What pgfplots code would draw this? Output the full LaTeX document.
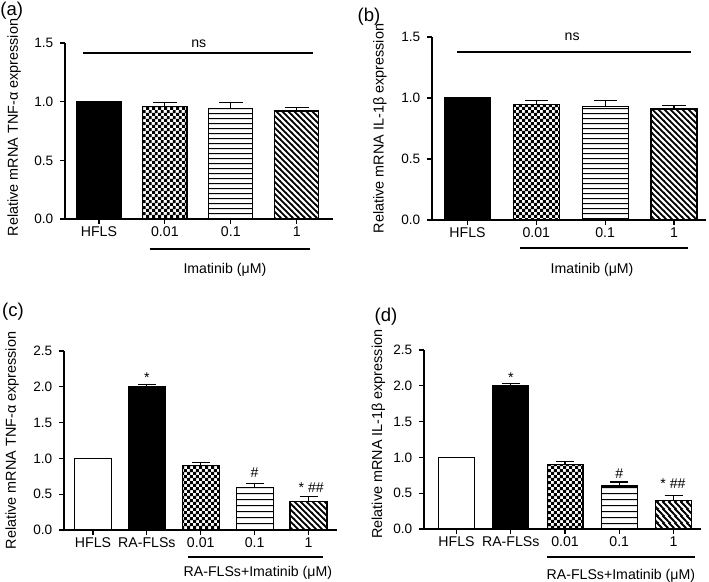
\documentclass[border=0pt]{standalone}
\usepackage{fontspec}
\setmainfont{Liberation Sans}
\usepackage{pgfplots}
\pgfplotsset{compat=1.18}
\usetikzlibrary{patterns.meta}

\tikzdeclarepattern{
  name=hl, type=uncolored,
  bottom left={(0pt,0pt)}, top right={(4pt,4.1pt)}, tile size={(4pt,4.1pt)},
  code={\draw[line width=0.85pt] (-0.2pt,2pt) -- (4.2pt,2pt);}
}
\tikzdeclarepattern{
  name=dl, type=uncolored,
  bottom left={(0pt,0pt)}, top right={(4.8pt,4.8pt)}, tile size={(4.8pt,4.8pt)},
  code={\draw[line width=1.5pt] (-1pt,5.8pt) -- (5.8pt,-1pt);
        \draw[line width=1.5pt] (-1pt,1pt) -- (1pt,-1pt);
        \draw[line width=1.5pt] (3.8pt,5.8pt) -- (5.8pt,3.8pt);}
}
\tikzdeclarepattern{
  name=ck, type=uncolored,
  bottom left={(0pt,0pt)}, top right={(4.4pt,4.4pt)}, tile size={(4.4pt,4.4pt)},
  code={\fill (0pt,0pt) rectangle (2.3pt,2.3pt); \fill (2.2pt,2.2pt) rectangle (4.4pt,4.4pt);}
}

\newcommand\lab{\fontsize{10.6}{12}\selectfont}
\pgfplotsset{
  panel/.style={
    scale only axis, anchor=south west,
    axis x line=bottom, axis y line=left,
    axis line style={-, line width=0.9pt, black},
    tick align=outside, major tick length=3.75pt,
    tick style={line width=0.9pt, black},
    ymin=0, clip=false,
    yticklabel style={font=\fontsize{10.2}{12}\selectfont, xshift=-1.5pt, /pgf/number format/.cd, fixed, fixed zerofill, precision=1},
    /pgf/number format/assume math mode=true,
    xticklabel style={font=\lab, yshift=1.5pt},
    ylabel style={font=\fontsize{10.8}{12}\selectfont, anchor=center},
  },
  bbar/.style={ybar, bar shift=0pt, draw=black, line width=0.9pt},
  eb/.style={error bars/.cd, y dir=plus, y explicit,
    error bar style={line width=0.9pt, black},
    error mark options={rotate=90, line width=0.9pt, black, mark size=#1}},
}

\begin{document}
\begin{tikzpicture}
\path[use as bounding box] (0,0) rectangle (531.75pt,435.75pt);

% (a)
\begin{axis}[panel, at={(48.75pt,271.5pt)}, width=201pt, height=132pt,
  xmin=-0.515, xmax=3.55, ymax=1.5, ytick={0,0.5,1,1.5},
  xtick={0,1,2,3}, xticklabels={HFLS,0.01,0.1,1}, bar width=0.67,
  ylabel={Relative mRNA TNF-α expression},
  ylabel style={at={(axis description cs:-0.19,0.52)}}]
\addplot[bbar, fill=black] coordinates {(0,1)};
\addplot[bbar, pattern=ck, pattern color=black, eb=9pt] coordinates {(1,0.957) +- (0,0.034)};
\addplot[bbar, pattern=hl, pattern color=black, eb=9pt] coordinates {(2,0.94) +- (0,0.05)};
\addplot[bbar, pattern=dl, pattern color=black, eb=9pt] coordinates {(3,0.92) +- (0,0.029)};
\draw[line width=0.9pt] (axis cs:-0.24,1.415) -- (axis cs:3.24,1.415);
\node[font=\lab] at (axis cs:1.515,1.49) {ns};
\draw[line width=0.9pt] (axis cs:0.77,-0.256) -- (axis cs:3.2,-0.256);
\node[font=\lab] at (axis cs:1.91,-0.435) {Imatinib (μM)};
\end{axis}

% (b)
\begin{axis}[panel, at={(324pt,270.75pt)}, width=205.5pt, height=137.25pt,
  xmin=-0.516, xmax=3.465, ymax=1.5, ytick={0,0.5,1,1.5},
  xtick={0,1,2,3}, xticklabels={HFLS,0.01,0.1,1}, bar width=0.67,
  ylabel={Relative mRNA IL-1β expression},
  ylabel style={at={(axis description cs:-0.19,0.5)}}]
\addplot[bbar, fill=black] coordinates {(0,1)};
\addplot[bbar, pattern=ck, pattern color=black, eb=8.7pt] coordinates {(1,0.948) +- (0,0.03)};
\addplot[bbar, pattern=hl, pattern color=black, eb=8.7pt] coordinates {(2,0.929) +- (0,0.049)};
\addplot[bbar, pattern=dl, pattern color=black, eb=8.7pt] coordinates {(3,0.91) +- (0,0.027)};
\draw[line width=0.9pt] (axis cs:-0.153,1.377) -- (axis cs:3.25,1.377);
\node[font=\lab] at (axis cs:1.52,1.5) {ns};
\draw[line width=0.9pt] (axis cs:0.763,-0.23) -- (axis cs:3.205,-0.23);
\node[font=\lab] at (axis cs:1.81,-0.41) {Imatinib (μM)};
\end{axis}

% (c)
\begin{axis}[panel, at={(48pt,38.25pt)}, width=204.75pt, height=134.25pt,
  xmin=-0.538, xmax=4.529, ymax=2.5, ytick={0,0.5,1,1.5,2,2.5},
  xtick={0,1,2,3,4}, xticklabels={HFLS,RA-FLSs,0.01,0.1,1}, bar width=0.686,
  ylabel={Relative mRNA TNF-α expression},
  ylabel style={at={(axis description cs:-0.19,0.5)}}]
\addplot[bbar, fill=white] coordinates {(0,1)};
\addplot[bbar, fill=black, eb=6.75pt] coordinates {(1,2.0) +- (0,0.035)};
\addplot[bbar, pattern=ck, pattern color=black, eb=6.75pt] coordinates {(2,0.898) +- (0,0.042)};
\addplot[bbar, pattern=hl, pattern color=black, eb=6.75pt] coordinates {(3,0.596) +- (0,0.056)};
\addplot[bbar, pattern=dl, pattern color=black, eb=6.75pt] coordinates {(4,0.395) +- (0,0.07)};
\node[font=\lab, anchor=base] at (axis cs:1,2.06) {*};
\node[font=\lab, anchor=base] at (axis cs:3,0.73) {\#};
\node[font=\lab, anchor=base] at (axis cs:4.05,0.53) {* \#\#};
\draw[line width=0.9pt] (axis cs:1.763,-0.377) -- (axis cs:4.267,-0.377);
\node[font=\lab] at (axis cs:3.06,-0.6) {RA-FLSs+Imatinib (μM)};
\end{axis}

% (d)
\begin{axis}[panel, at={(318pt,39pt)}, width=207.75pt, height=134.25pt,
  xmin=-0.599, xmax=4.507, ymax=2.5, ytick={0,0.5,1,1.5,2,2.5},
  xtick={0,1,2,3,4}, xticklabels={HFLS,RA-FLSs,0.01,0.1,1}, bar width=0.66,
  ylabel={Relative mRNA IL-1β expression},
  ylabel style={at={(axis description cs:-0.165,0.53)}}]
\addplot[bbar, fill=white] coordinates {(0,1)};
\addplot[bbar, fill=black, eb=6.75pt] coordinates {(1,2.0) +- (0,0.035)};
\addplot[bbar, pattern=ck, pattern color=black, eb=6.75pt] coordinates {(2,0.9) +- (0,0.042)};
\addplot[bbar, pattern=hl, pattern color=black, eb=6.75pt] coordinates {(3,0.6) +- (0,0.056)};
\addplot[bbar, pattern=dl, pattern color=black, eb=6.75pt] coordinates {(4,0.4) +- (0,0.07)};
\node[font=\lab, anchor=base] at (axis cs:1,2.05) {*};
\node[font=\lab, anchor=base] at (axis cs:3,0.71) {\#};
\node[font=\lab, anchor=base] at (axis cs:3.99,0.56) {* \#\#};
\draw[line width=0.9pt] (axis cs:1.668,-0.391) -- (axis cs:4.396,-0.391);
\node[font=\lab] at (axis cs:3.03,-0.65) {RA-FLSs+Imatinib (μM)};
\end{axis}

\node[font=\fontsize{13.9}{15}\selectfont] at (8.8pt,427.5pt) {(a)};
\node[font=\fontsize{13.9}{15}\selectfont] at (276.75pt,423.4pt) {(b)};
\node[font=\fontsize{13.9}{15}\selectfont] at (9.75pt,201.75pt) {(c)};
\node[font=\fontsize{13.9}{15}\selectfont] at (289.5pt,198pt) {(d)};
\end{tikzpicture}
\end{document}
